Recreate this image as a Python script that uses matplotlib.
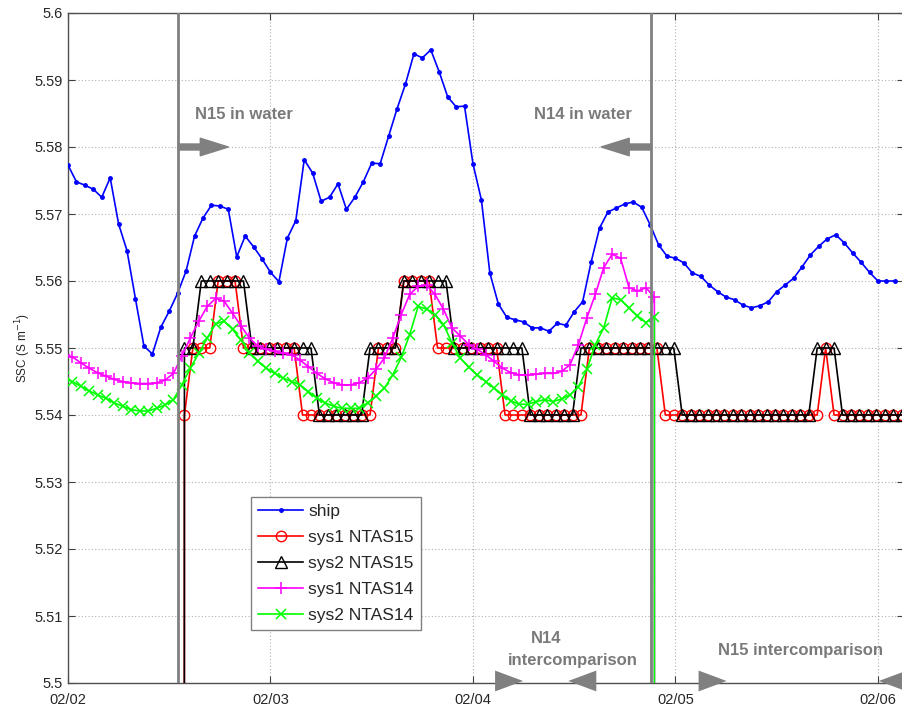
import numpy as np
import matplotlib
matplotlib.use('Agg')
import matplotlib.pyplot as plt
from matplotlib.ticker import FixedLocator, FuncFormatter

plt.rcParams['font.family'] = ['Liberation Sans', 'DejaVu Sans']

# ---------------- data ----------------
day_ticks = [0, 24, 48, 72, 96]          # hours since 02/02 00:00
day_labels = ['02/02', '02/03', '02/04', '02/05', '02/06']
y_ticks = [5.50, 5.51, 5.52, 5.53, 5.54, 5.55, 5.56, 5.57, 5.58, 5.59, 5.60]

ship_start_hour = 0.0
ship_ssc = [5.5773, 5.5748, 5.5743, 5.5737, 5.5725, 5.5754, 5.5685, 5.5645, 5.5573, 5.5503,
            5.5491, 5.5531, 5.5555, 5.5582, 5.5615, 5.5667, 5.5694, 5.5713, 5.5712, 5.5707,
            5.5636, 5.5667, 5.5651, 5.5633, 5.5613, 5.5599, 5.5664, 5.5690, 5.5781, 5.5761,
            5.5719, 5.5725, 5.5745, 5.5707, 5.5725, 5.5748, 5.5776, 5.5775, 5.5816, 5.5857,
            5.5894, 5.5939, 5.5933, 5.5945, 5.5912, 5.5875, 5.5860, 5.5861, 5.5775, 5.5721,
            5.5612, 5.5566, 5.5546, 5.5542, 5.5539, 5.5530, 5.5530, 5.5525, 5.5537, 5.5534,
            5.5554, 5.5569, 5.5628, 5.5679, 5.5703, 5.5709, 5.5715, 5.5718, 5.5710, 5.5684,
            5.5654, 5.5637, 5.5634, 5.5627, 5.5612, 5.5607, 5.5594, 5.5584, 5.5576, 5.5572,
            5.5564, 5.5560, 5.5563, 5.5569, 5.5584, 5.5594, 5.5604, 5.5621, 5.5639, 5.5652,
            5.5663, 5.5669, 5.5657, 5.5642, 5.5628, 5.5613, 5.5600, 5.5600, 5.5600]

ntas15_start_hour = 12.8   # first sample still in air (reads ~0)
sys1_ntas15 = [0.0,
               5.54, 5.55, 5.55, 5.55, 5.56, 5.56, 5.56, 5.55, 5.55, 5.55,
               5.55, 5.55, 5.55, 5.55, 5.54, 5.54, 5.54, 5.54, 5.54, 5.54,
               5.54, 5.54, 5.54, 5.55, 5.55, 5.55, 5.56, 5.56, 5.56, 5.56,
               5.55, 5.55, 5.55, 5.55, 5.55, 5.55, 5.55, 5.55, 5.54, 5.54,
               5.54, 5.54, 5.54, 5.54, 5.54, 5.54, 5.54, 5.54, 5.55, 5.55,
               5.55, 5.55, 5.55, 5.55, 5.55, 5.55, 5.55, 5.54, 5.54, 5.54,
               5.54, 5.54, 5.54, 5.54, 5.54, 5.54, 5.54, 5.54, 5.54, 5.54,
               5.54, 5.54, 5.54, 5.54, 5.54, 5.54, 5.55, 5.54, 5.54, 5.54,
               5.54, 5.54, 5.54, 5.54, 5.54, 5.54]
sys2_ntas15 = [0.0,
               5.55, 5.55, 5.56, 5.56, 5.56, 5.56, 5.56, 5.56, 5.55, 5.55,
               5.55, 5.55, 5.55, 5.55, 5.55, 5.55, 5.54, 5.54, 5.54, 5.54,
               5.54, 5.54, 5.55, 5.55, 5.55, 5.55, 5.56, 5.56, 5.56, 5.56,
               5.56, 5.56, 5.55, 5.55, 5.55, 5.55, 5.55, 5.55, 5.55, 5.55,
               5.55, 5.54, 5.54, 5.54, 5.54, 5.54, 5.54, 5.55, 5.55, 5.55,
               5.55, 5.55, 5.55, 5.55, 5.55, 5.55, 5.55, 5.55, 5.55, 5.54,
               5.54, 5.54, 5.54, 5.54, 5.54, 5.54, 5.54, 5.54, 5.54, 5.54,
               5.54, 5.54, 5.54, 5.54, 5.54, 5.55, 5.55, 5.55, 5.54, 5.54,
               5.54, 5.54, 5.54, 5.54, 5.54, 5.54]

ntas14_start_hour = -0.5   # last sample recovered (reads ~0)
sys1_ntas14 = [5.5490, 5.5487, 5.5478, 5.5470, 5.5463, 5.5458, 5.5453, 5.5450, 5.5448, 5.5447,
               5.5447, 5.5448, 5.5452, 5.5462, 5.5488, 5.5515, 5.5540, 5.5562, 5.5574, 5.5570,
               5.5552, 5.5533, 5.5515, 5.5503, 5.5498, 5.5495, 5.5492, 5.5490, 5.5482, 5.5472,
               5.5462, 5.5454, 5.5448, 5.5445, 5.5445, 5.5448, 5.5455, 5.5468, 5.5485, 5.5515,
               5.5550, 5.5580, 5.5592, 5.5594, 5.5580, 5.5558, 5.5530, 5.5518, 5.5505, 5.5498,
               5.5490, 5.5480, 5.5470, 5.5463, 5.5460, 5.5460, 5.5461, 5.5462, 5.5462, 5.5465,
               5.5475, 5.5505, 5.5545, 5.5580, 5.5620, 5.5640, 5.5634, 5.5590, 5.5585, 5.5590,
               5.5576, 0.0]
sys2_ntas14 = [5.5456, 5.5450, 5.5443, 5.5436, 5.5430, 5.5425, 5.5418, 5.5413, 5.5408, 5.5406,
               5.5406, 5.5410, 5.5415, 5.5423, 5.5445, 5.5470, 5.5492, 5.5515, 5.5536, 5.5540,
               5.5528, 5.5512, 5.5493, 5.5480, 5.5470, 5.5462, 5.5455, 5.5450, 5.5445, 5.5435,
               5.5425, 5.5418, 5.5413, 5.5410, 5.5410, 5.5410, 5.5418, 5.5428, 5.5440, 5.5460,
               5.5486, 5.5520, 5.5562, 5.5558, 5.5550, 5.5535, 5.5508, 5.5485, 5.5471, 5.5460,
               5.5450, 5.5440, 5.5430, 5.5421, 5.5416, 5.5416, 5.5420, 5.5423, 5.5420, 5.5424,
               5.5430, 5.5442, 5.5468, 5.5505, 5.5530, 5.5575, 5.5572, 5.5560, 5.5548, 5.5538,
               5.5547, 0.0]

n15_in_water_hour = 13.07
n14_in_water_hour = 69.15

# ---------------- figure ----------------
W, H = 902, 708
fig = plt.figure(figsize=(W / 100, H / 100), dpi=100)
ax = fig.add_axes([68 / W, 1 - 683 / H, 836 / W, 670 / H])

t_ship = ship_start_hour + np.arange(len(ship_ssc))
t15 = ntas15_start_hour + np.arange(len(sys1_ntas15))
t14 = ntas14_start_hour + np.arange(len(sys1_ntas14))

lw = 1.2
ax.plot(t_ship, ship_ssc, '-', color='#0000ff', lw=lw, marker='.', ms=5, label='ship', zorder=4)
ax.plot(t15, sys1_ntas15, '-', color='#ff0000', lw=lw, marker='o', ms=7.5, mfc='none',
        mew=1.0, label='sys1 NTAS15', zorder=4)
ax.plot(t15, sys2_ntas15, '-', color='#000000', lw=lw, marker='^', ms=8.5, mfc='none',
        mew=1.0, label='sys2 NTAS15', zorder=4)
ax.plot(t14, sys1_ntas14, '-', color='#ff00ff', lw=lw, marker='+', ms=9, mew=1.1,
        label='sys1 NTAS14', zorder=4)
ax.plot(t14, sys2_ntas14, '-', color='#00ff00', lw=lw, marker='x', ms=7, mew=1.1,
        label='sys2 NTAS14', zorder=4)

for h in (n15_in_water_hour, n14_in_water_hour):
    ax.axvline(h, color='#808080', lw=2.0, zorder=5)

ax.set_xlim(0, 834 / (808 / 96))
ax.set_ylim(5.5, 5.6)
ax.xaxis.set_major_locator(FixedLocator(day_ticks))
ax.set_xticklabels(day_labels)
ax.yaxis.set_major_locator(FixedLocator(y_ticks))
ax.yaxis.set_major_formatter(FuncFormatter(lambda v, p: '%g' % round(v, 4)))
ax.tick_params(direction='in', length=5, width=0.8, top=True, right=True,
               labelsize=10.5, labelcolor='#262626', color='#404040', pad=4)
ax.tick_params(axis='x', pad=7)
ax.grid(True, linestyle=(0, (1, 2)), color='#b0b0b0', lw=0.8)
for s in ax.spines.values():
    s.set_color('#505050')
    s.set_linewidth(1.0)
ax.set_ylabel('SSC (S m$^{-1}$)', fontsize=8.5, color='#262626')
ax.yaxis.set_label_coords((33 - 68) / 836, 0.5)

# ---------------- annotations ----------------
tc = '#7a7a7a'
tkw = dict(color=tc, fontsize=12, fontweight='bold')
ax.text(15.1, 5.5848, 'N15 in water', ha='left', va='center', **tkw)
ax.text(55.25, 5.5848, 'N14 in water', ha='left', va='center', **tkw)
ax.text(56.67, 5.5066, 'N14', ha='center', va='center', **tkw)
ax.text(59.8, 5.5033, 'intercomparison', ha='center', va='center', **tkw)
ax.text(77.1, 5.5049, 'N15 intercomparison', ha='left', va='center', **tkw)

arrow_full = dict(arrowstyle='simple,head_length=1.68,head_width=1.05,tail_width=0.36',
                  color='#808080', shrinkA=0, shrinkB=0, mutation_scale=12)
arrow_head = dict(arrowstyle='simple,head_length=1.68,head_width=1.25,tail_width=0.0',
                  color='#808080', lw=0, shrinkA=0, shrinkB=0, mutation_scale=12)

a = ax.annotate('', xy=(19.0, 5.58), xytext=(n15_in_water_hour, 5.58), arrowprops=arrow_full)
a = ax.annotate('', xy=(63.2, 5.58), xytext=(n14_in_water_hour, 5.58), arrowprops=arrow_full)

yb = 5.5003
for tip, base in ((53.94, 50.0), (59.3, 63.3), (78.06, 74.2), (96.1, 100.5)):
    a = ax.annotate('', xy=(tip, yb), xytext=(base, yb), arrowprops=arrow_head,
                    annotation_clip=False)
    a.arrow_patch.set_clip_on(False)

leg = ax.legend(loc='upper left', bbox_to_anchor=(251 / W, 1 - 497 / H),
                bbox_transform=fig.transFigure, borderaxespad=0, fontsize=12.5,
                frameon=True, fancybox=False, edgecolor='#808080', framealpha=1,
                handlelength=2.6, handletextpad=0.3, labelspacing=0.62, borderpad=0.4)
leg.get_frame().set_linewidth(1.0)
for t in leg.get_texts():
    t.set_color('#262626')

fig.savefig('out.png', dpi=100)
